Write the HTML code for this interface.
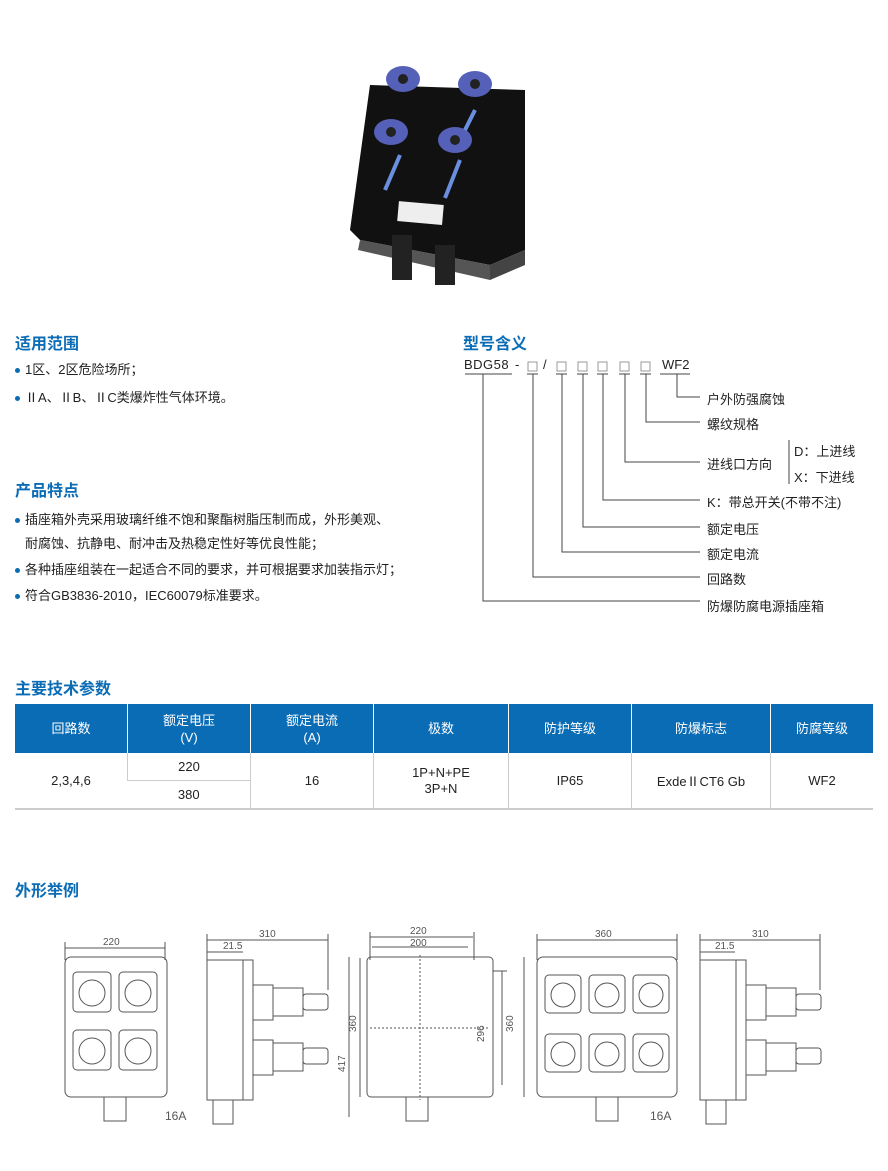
<!DOCTYPE html>
<html><head><meta charset="utf-8"><style>
body{margin:0;background:#fff;width:888px;height:1171px;position:relative;overflow:hidden;font-family:"Liberation Sans","Noto Sans CJK SC",sans-serif;color:#222}
.a{position:absolute;white-space:nowrap}
.h{color:#0b6cb6;font-size:16px;font-weight:bold}
.t{font-size:13px}
.dot{display:inline-block;width:5px;height:5px;border-radius:50%;background:#0b6cb6;margin-right:5px;vertical-align:middle}
table{position:absolute;left:15px;top:704px;width:858px;border-collapse:collapse;font-size:13px;text-align:center}
th{background:#0b6cb6;color:#fff;font-weight:normal;height:47px;border-left:1px solid #fff;line-height:17px}
td{border-left:1px solid #ccc;border-bottom:2px solid #ccc;height:25px}
td:first-child,th:first-child{border-left:none}
</style></head><body>
<svg class="a" style="left:340px;top:50px" width="200" height="240">
<polygon points="30,35 185,40 185,200 150,215 20,190 10,180" fill="#111"/>
<polygon points="20,190 150,215 150,230 18,200" fill="#555"/>
<polygon points="150,215 185,200 185,215 150,230" fill="#444"/>
<rect x="58" y="153" width="45" height="20" fill="#eee" transform="rotate(5 80 163)"/>
<rect x="52" y="185" width="20" height="45" fill="#222"/><rect x="95" y="195" width="20" height="40" fill="#222"/>
<ellipse cx="63" cy="29" rx="17" ry="13" fill="#5560b8"/><circle cx="63" cy="29" r="5" fill="#222"/>
<ellipse cx="135" cy="34" rx="17" ry="13" fill="#5560b8"/><circle cx="135" cy="34" r="5" fill="#222"/>
<ellipse cx="51" cy="82" rx="17" ry="13" fill="#5560b8"/><circle cx="51" cy="82" r="5" fill="#222"/>
<ellipse cx="115" cy="90" rx="17" ry="13" fill="#5560b8"/><circle cx="115" cy="90" r="5" fill="#222"/>
<path d="M60,105 L45,140 M120,110 L105,148 M135,60 L125,80" stroke="#6b8fe0" stroke-width="4"/>
</svg>

<div class="a h" style="left:15px;top:330px">适用范围</div>
<div class="a t" style="left:15px;top:359px"><span class="dot"></span>1区、2区危险场所；</div>
<div class="a t" style="left:15px;top:387px"><span class="dot"></span>ⅡA、ⅡB、ⅡC类爆炸性气体环境。</div>
<div class="a h" style="left:15px;top:477px">产品特点</div>
<div class="a t" style="left:15px;top:509px"><span class="dot"></span>插座箱外壳采用玻璃纤维不饱和聚酯树脂压制而成，外形美观、</div>
<div class="a t" style="left:25px;top:533px">耐腐蚀、抗静电、耐冲击及热稳定性好等优良性能；</div>
<div class="a t" style="left:15px;top:559px"><span class="dot"></span>各种插座组装在一起适合不同的要求，并可根据要求加装指示灯；</div>
<div class="a t" style="left:15px;top:585px"><span class="dot"></span>符合GB3836-2010，IEC60079标准要求。</div>

<div class="a h" style="left:463px;top:330px">型号含义</div>
<div class="a t" style="left:464px;top:357px;letter-spacing:0.5px">BDG58</div>
<div class="a t" style="left:515px;top:357px">-</div>
<div class="a t" style="left:543px;top:357px">/</div>
<div class="a t" style="left:662px;top:357px">WF2</div>
<svg class="a" style="left:450px;top:350px" width="438" height="270" fill="none" stroke="#444" stroke-width="1">
<g stroke="#999"><rect x="78" y="12" width="9" height="9"/><rect x="107" y="12" width="9" height="9"/><rect x="128" y="12" width="9" height="9"/><rect x="148" y="12" width="9" height="9"/><rect x="170" y="12" width="9" height="9"/><rect x="191" y="12" width="9" height="9"/></g>
<path d="M15,24H62 M77,24H88 M106,24H117 M127,24H138 M147,24H158 M169,24H180 M190,24H201 M210,24H240"/>
<path d="M33,24V251H250 M83,24V227H250 M112,24V202H250 M133,24V177H250 M153,24V150H250 M175,24V112H250 M196,24V72H250 M227,24V47H250"/>
<path d="M339,90V134"/>
</svg>
<div class="a t" style="left:707px;top:389px">户外防强腐蚀</div>
<div class="a t" style="left:707px;top:414px">螺纹规格</div>
<div class="a t" style="left:707px;top:454px">进线口方向</div>
<div class="a t" style="left:794px;top:441px">D：上进线</div>
<div class="a t" style="left:794px;top:467px">X：下进线</div>
<div class="a t" style="left:707px;top:492px">K：带总开关(不带不注)</div>
<div class="a t" style="left:707px;top:519px">额定电压</div>
<div class="a t" style="left:707px;top:544px">额定电流</div>
<div class="a t" style="left:707px;top:569px">回路数</div>
<div class="a t" style="left:707px;top:596px">防爆防腐电源插座箱</div>

<div class="a h" style="left:15px;top:675px">主要技术参数</div>
<table>
<tr><th style="width:110px">回路数</th><th style="width:120px">额定电压<br>(V)</th><th style="width:120px">额定电流<br>(A)</th><th style="width:132px">极数</th><th style="width:120px">防护等级</th><th style="width:136px">防爆标志</th><th>防腐等级</th></tr>
<tr><td rowspan="2">2,3,4,6</td><td style="border-bottom:1px solid #ccc">220</td><td rowspan="2">16</td><td rowspan="2" style="line-height:16px">1P+N+PE<br>3P+N</td><td rowspan="2">IP65</td><td rowspan="2">ExdeⅡCT6 Gb</td><td rowspan="2">WF2</td></tr>
<tr><td>380</td></tr>
</table>

<div class="a h" style="left:15px;top:877px">外形举例</div>
<svg class="a" style="left:0;top:920px" width="888" height="210" fill="none" stroke="#555" stroke-width="1" font-family="Liberation Sans" font-size="10">
<g fill="#555" stroke="none"><text x="103" y="25">220</text><text x="259" y="17">310</text><text x="223" y="29">21.5</text><text x="410" y="14">220</text><text x="410" y="26">200</text><text x="595" y="17">360</text><text x="752" y="17">310</text><text x="715" y="29">21.5</text><text x="165" y="200" font-size="12">16A</text><text x="650" y="200" font-size="12">16A</text>
<text transform="translate(356,112) rotate(-90)">360</text><text transform="translate(345,152) rotate(-90)">417</text><text transform="translate(484,122) rotate(-90)">296</text><text transform="translate(513,112) rotate(-90)">360</text></g>
<path d="M65,28H165 M65,22V40 M165,22V40 M207,20H328 M207,32H243 M207,14V40 M328,14V70 M370,17H473 M372,27H468 M370,12V40 M474,12V40 M349,37V197 M360,38V177 M493,51H507 M502,51V165 M537,20H677 M537,14V40 M677,14V40 M524,37V177 M700,20H820 M700,32H735 M700,14V40 M820,14V70"/>
<rect x="65" y="37" width="102" height="140" rx="6"/>
<g><rect x="73" y="52" width="38" height="40" rx="4"/><rect x="119" y="52" width="38" height="40" rx="4"/><rect x="73" y="110" width="38" height="40" rx="4"/><rect x="119" y="110" width="38" height="40" rx="4"/>
<circle cx="92" cy="73" r="13"/><circle cx="138" cy="73" r="13"/><circle cx="92" cy="131" r="13"/><circle cx="138" cy="131" r="13"/></g>
<rect x="104" y="177" width="22" height="24"/>
<rect x="207" y="40" width="36" height="140"/><rect x="243" y="40" width="10" height="140"/>
<rect x="253" y="65" width="20" height="35"/><rect x="273" y="68" width="30" height="28"/><rect x="303" y="74" width="25" height="16" rx="3"/>
<rect x="253" y="120" width="20" height="35"/><rect x="273" y="123" width="30" height="28"/><rect x="303" y="128" width="25" height="16" rx="3"/>
<rect x="213" y="180" width="20" height="24"/>
<rect x="367" y="37" width="126" height="140" rx="4"/><path stroke-dasharray="2,2" d="M420,35V180 M370,108H490"/>
<rect x="406" y="177" width="22" height="24"/>
<rect x="537" y="37" width="140" height="140" rx="6"/>
<g><rect x="545" y="55" width="36" height="38" rx="4"/><rect x="589" y="55" width="36" height="38" rx="4"/><rect x="633" y="55" width="36" height="38" rx="4"/><rect x="545" y="114" width="36" height="38" rx="4"/><rect x="589" y="114" width="36" height="38" rx="4"/><rect x="633" y="114" width="36" height="38" rx="4"/>
<circle cx="563" cy="75" r="12"/><circle cx="607" cy="75" r="12"/><circle cx="651" cy="75" r="12"/><circle cx="563" cy="134" r="12"/><circle cx="607" cy="134" r="12"/><circle cx="651" cy="134" r="12"/></g>
<rect x="596" y="177" width="22" height="24"/>
<rect x="700" y="40" width="36" height="140"/><rect x="736" y="40" width="10" height="140"/>
<rect x="746" y="65" width="20" height="35"/><rect x="766" y="68" width="30" height="28"/><rect x="796" y="74" width="25" height="16" rx="3"/>
<rect x="746" y="120" width="20" height="35"/><rect x="766" y="123" width="30" height="28"/><rect x="796" y="128" width="25" height="16" rx="3"/>
<rect x="706" y="180" width="20" height="24"/>
</svg>
</body></html>
